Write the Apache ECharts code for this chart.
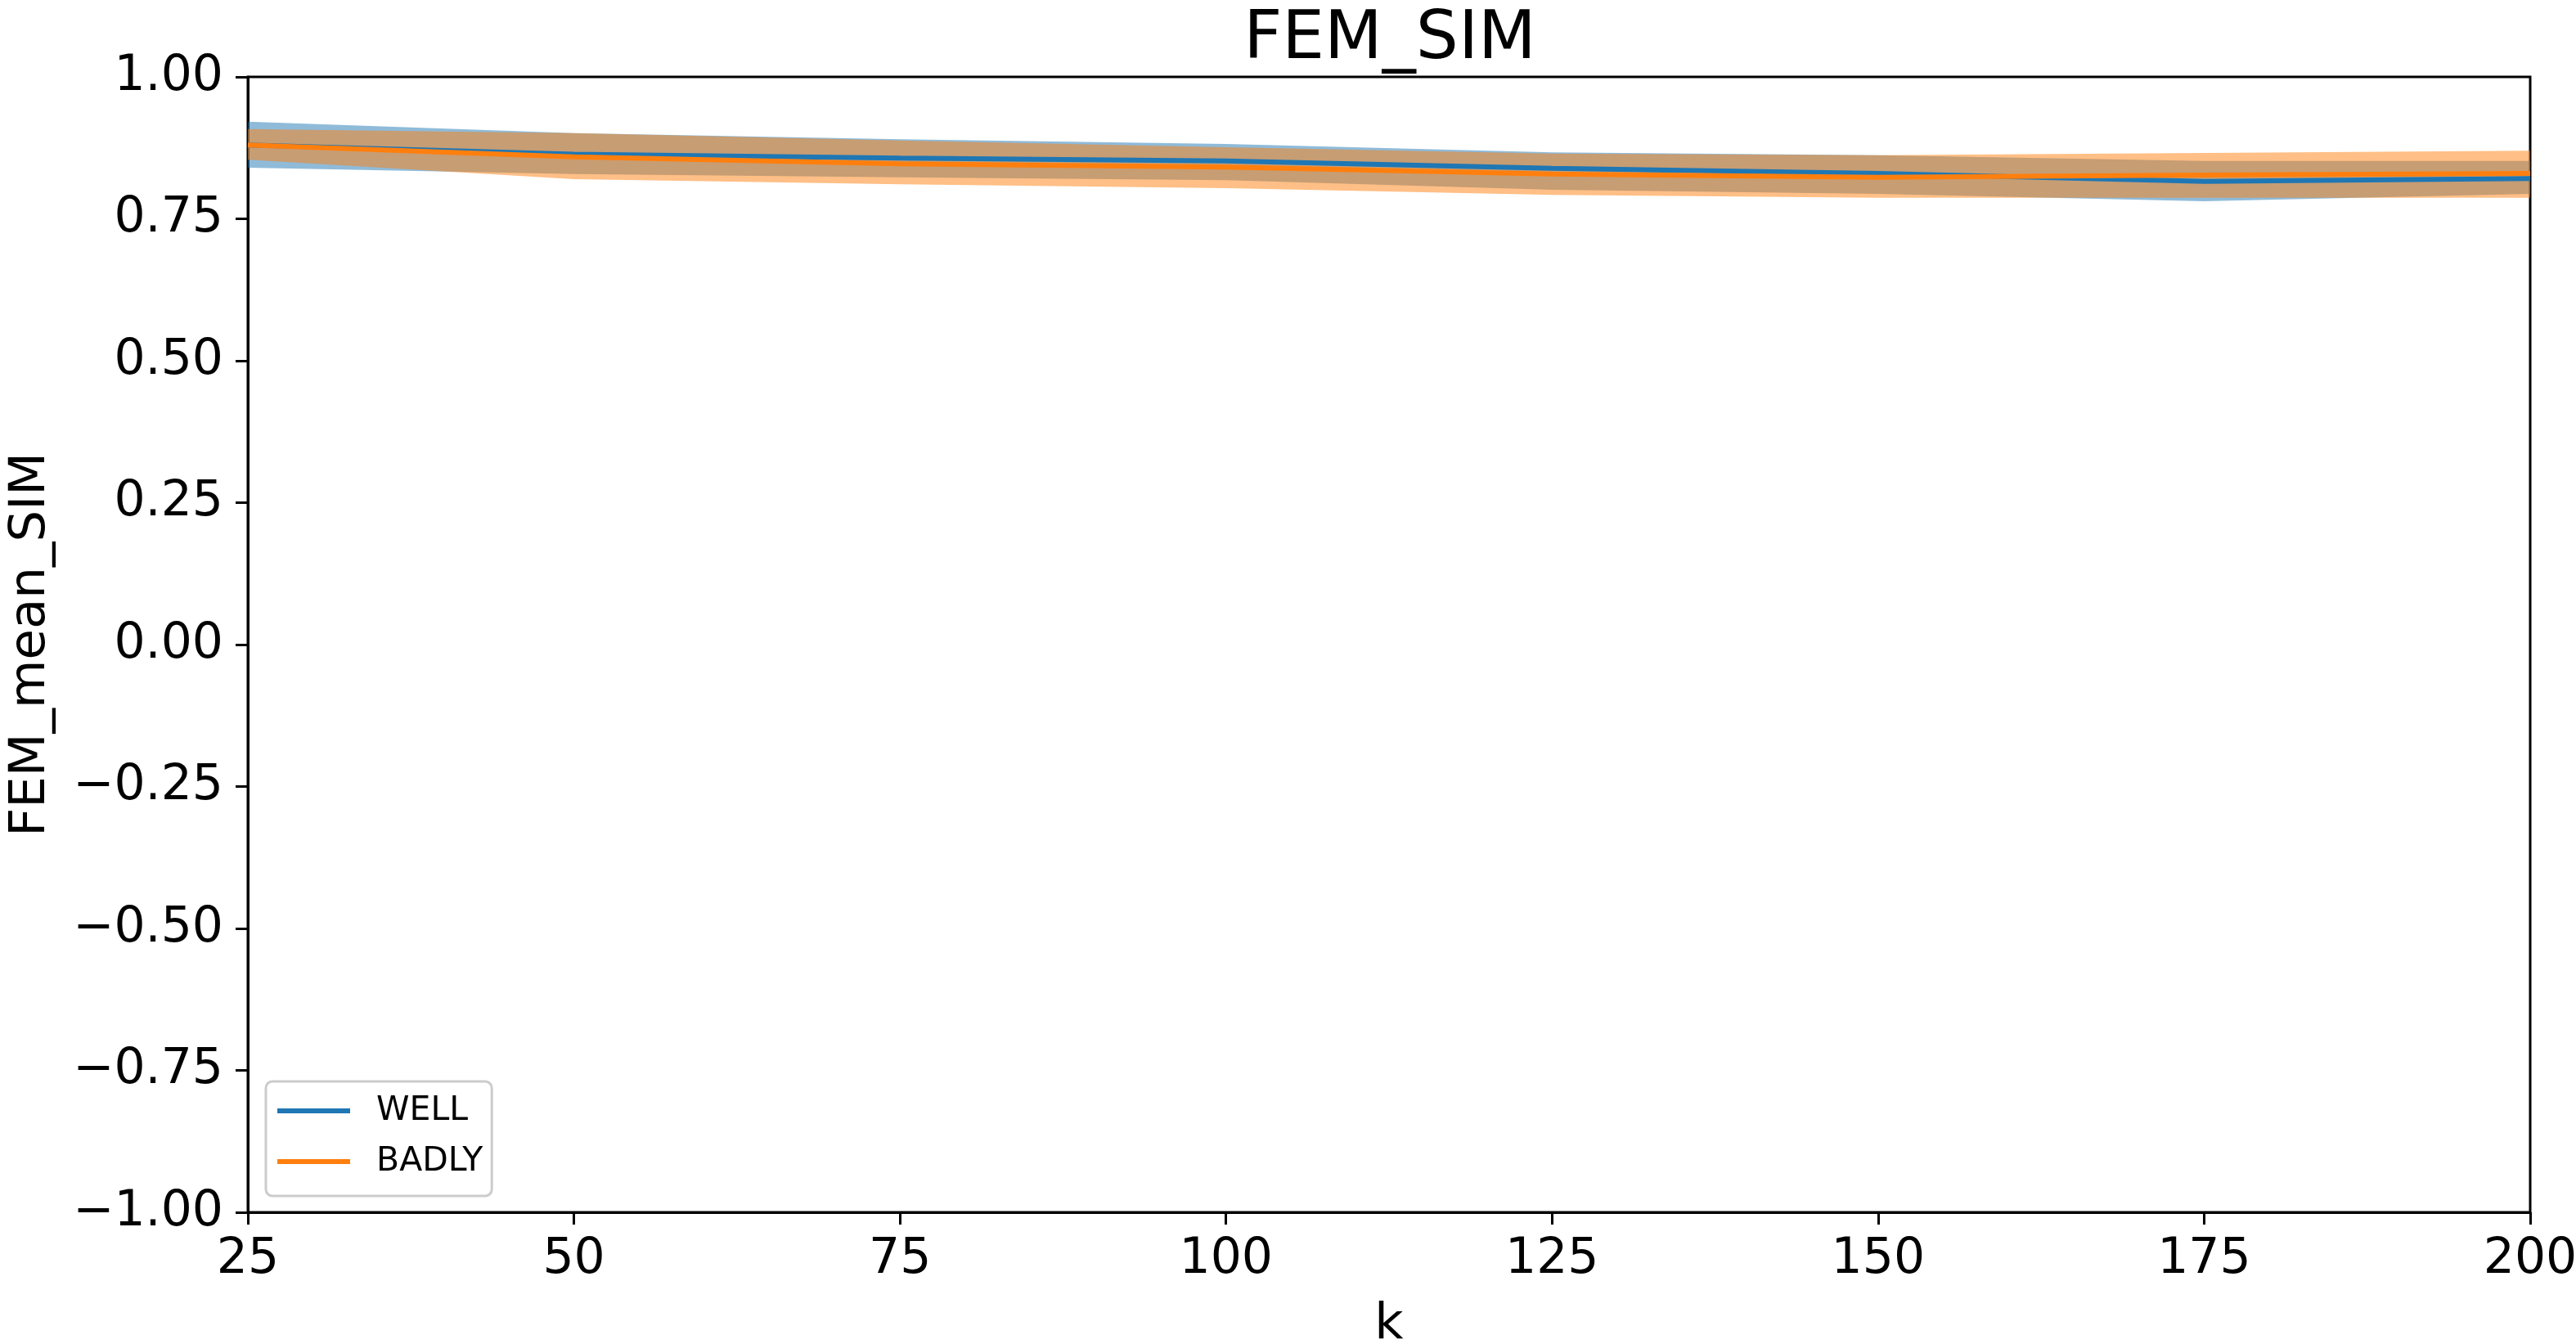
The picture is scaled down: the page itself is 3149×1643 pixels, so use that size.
<!DOCTYPE html>
<html>
<head>
<meta charset="utf-8">
<script src="https://cdn.jsdelivr.net/npm/echarts@6/dist/echarts.min.js"></script>
<style>html,body{margin:0;padding:0;background:#fff}#c{width:3149px;height:1643px}</style>
</head>
<body>
<div id="c"></div>
<script>
const kValues = [25, 50, 75, 100, 125, 150, 175, 200];
const wellMean  = [0.880, 0.864, 0.857, 0.852, 0.839, 0.830, 0.816, 0.821];
const wellUpper = [0.921, 0.901, 0.890, 0.882, 0.867, 0.862, 0.852, 0.852];
const wellLower = [0.840, 0.829, 0.823, 0.818, 0.801, 0.794, 0.781, 0.794];
const badlyMean  = [0.880, 0.859, 0.847, 0.841, 0.829, 0.823, 0.827, 0.830];
const badlyUpper = [0.908, 0.901, 0.888, 0.876, 0.865, 0.862, 0.866, 0.870];
const badlyLower = [0.854, 0.820, 0.811, 0.804, 0.792, 0.787, 0.787, 0.787];
const yTicks = [-1, -0.75, -0.5, -0.25, 0, 0.25, 0.5, 0.75, 1];

const FONT = 'DejaVu Sans';
const BLUE = '#1f77b4', ORANGE = '#ff7f0e';

function band(name, lower, upper, fill) {
  return {
    type: 'custom', name: name + '_band', z: 1, silent: true,
    data: kValues.map((k, i) => [k, lower[i], upper[i]]),
    encode: { x: 0, y: [1, 2] },
    renderItem: function (params, api) {
      if (params.dataIndex !== 0) return null;
      const pts = [];
      for (let i = 0; i < kValues.length; i++) pts.push(api.coord([kValues[i], upper[i]]));
      for (let i = kValues.length - 1; i >= 0; i--) pts.push(api.coord([kValues[i], lower[i]]));
      return { type: 'polygon', shape: { points: pts }, style: { fill: fill, stroke: null } };
    }
  };
}
function line(name, vals, color) {
  return {
    type: 'line', name: name, z: 2, showSymbol: false, symbol: 'none',
    data: kValues.map((k, i) => [k, vals[i]]),
    lineStyle: { color: color, width: 6 }, itemStyle: { color: color }
  };
}

const chart = echarts.init(document.getElementById('c'), null, { renderer: 'canvas' });
chart.setOption({
  animation: false,
  backgroundColor: '#ffffff',
  title: {
    text: 'FEM_SIM', left: 1694, top: 4, textAlign: 'center',
    textStyle: { fontFamily: FONT, fontSize: 82, fontWeight: 'normal', color: '#000' }
  },
  grid: {
    left: 303, right: 56, top: 94, bottom: 161, containLabel: false, outerBoundsMode: 'none',
    show: true, borderColor: '#000', borderWidth: 3, backgroundColor: 'transparent'
  },
  legend: {
    orient: 'vertical', left: 325, top: 1322,
    data: ['WELL', 'BADLY'],
    icon: 'rect', itemWidth: 89, itemHeight: 6, itemGap: 14,
    padding: [12, 11, 18, 14],
    backgroundColor: '#fff', borderColor: '#cccccc', borderWidth: 3, borderRadius: 8,
    textStyle: { fontFamily: FONT, fontSize: 41, color: '#000', lineHeight: 48, padding: [0, 0, 0, 27] }
  },
  xAxis: {
    type: 'value', min: 25, max: 200, interval: 25,
    name: 'k', nameLocation: 'middle', nameGap: 108,
    nameTextStyle: { fontFamily: FONT, fontSize: 61, color: '#000' },
    axisLine: { show: true, onZero: false, lineStyle: { color: '#000', width: 3 } },
    axisTick: { show: true, inside: false, length: 15, lineStyle: { color: '#000', width: 3 } },
    axisLabel: { fontFamily: FONT, fontSize: 60, color: '#000', margin: 28 },
    splitLine: { show: false }
  },
  yAxis: {
    type: 'value', min: yTicks[0], max: yTicks[yTicks.length - 1], interval: 0.25,
    name: 'FEM_mean_SIM', nameLocation: 'middle', nameGap: 234, nameRotate: 90,
    nameTextStyle: { fontFamily: FONT, fontSize: 61, color: '#000' },
    axisLine: { show: true, onZero: false, lineStyle: { color: '#000', width: 3 } },
    axisTick: { show: true, inside: false, length: 15, lineStyle: { color: '#000', width: 3 } },
    axisLabel: {
      fontFamily: FONT, fontSize: 60, color: '#000', margin: 30,
      formatter: v => (v < 0 ? '\u2212' + Math.abs(v).toFixed(2) : v.toFixed(2))
    },
    splitLine: { show: false }
  },
  series: [
    band('WELL', wellLower, wellUpper, 'rgba(31,119,180,0.5)'),
    band('BADLY', badlyLower, badlyUpper, 'rgba(255,127,14,0.5)'),
    line('WELL', wellMean, BLUE),
    line('BADLY', badlyMean, ORANGE)
  ]
});
</script>
</body>
</html>
